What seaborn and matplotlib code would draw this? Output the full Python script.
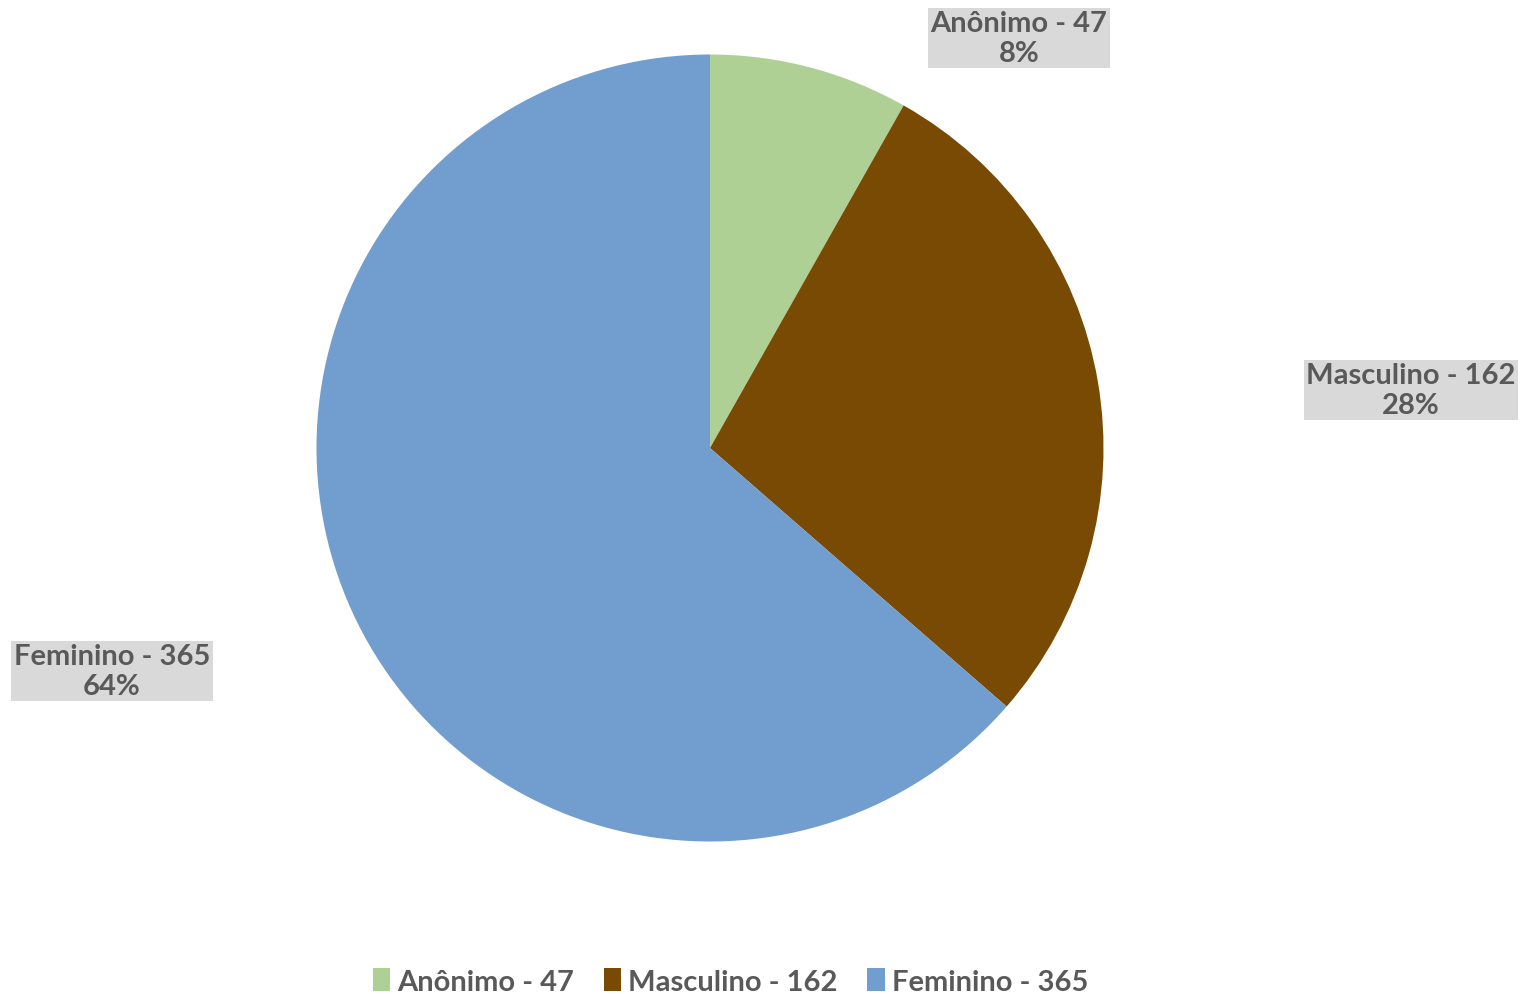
"""
Pie chart: respondents by gender (Anônimo / Masculino / Feminino).
"""
import seaborn as sns
import matplotlib.pyplot as plt
from matplotlib.patches import Patch

sns.set_theme(style='white')
plt.rcParams['font.family'] = ['Lato', 'DejaVu Sans']

# Data
categories = ['Anônimo', 'Masculino', 'Feminino']
counts = [47, 162, 365]
colors = ['#AFD095', '#784A03', '#729DCF']
text_color = '#595959'

labels = [f'{c} - {n}' for c, n in zip(categories, counts)]
total = sum(counts)
pcts = [round(100 * n / total) for n in counts]

fig = plt.figure(figsize=(15.25, 9.95), dpi=100)
ax = fig.add_axes([0, 0, 1, 1])
ax.axis('off')

ax.pie(counts, colors=colors, startangle=90, counterclock=False,
       center=(710, 546), radius=393.5,
       wedgeprops=dict(linewidth=0))
ax.set_xlim(0, 1525)
ax.set_ylim(0, 995)
ax.set_aspect('equal')

# Data labels with grey boxes (placed like Excel's best fit)
label_pos = [(1019, 956), (1411, 604), (112, 323)]
for (x, y), lab, p in zip(label_pos, labels, pcts):
    ax.text(x, y, f'{lab}\n{p}%', ha='center', va='center',
            fontsize=21, fontweight='bold', color=text_color,
            linespacing=1.2,
            bbox=dict(boxstyle='square,pad=0.08', fc='#D9D9D9', ec='none'))

# Legend
handles = [Patch(facecolor=c, edgecolor='none', label=l) for c, l in zip(colors, labels)]
leg = fig.legend(handles=handles, loc='lower center', ncol=3, frameon=False,
                 bbox_to_anchor=(0.479, -0.027), fontsize=21,
                 handlelength=0.6, handleheight=0.8, handletextpad=0.25,
                 columnspacing=1.0)
for t in leg.get_texts():
    t.set_color(text_color)
    t.set_fontweight('bold')

fig.savefig('out.png', dpi=100)
